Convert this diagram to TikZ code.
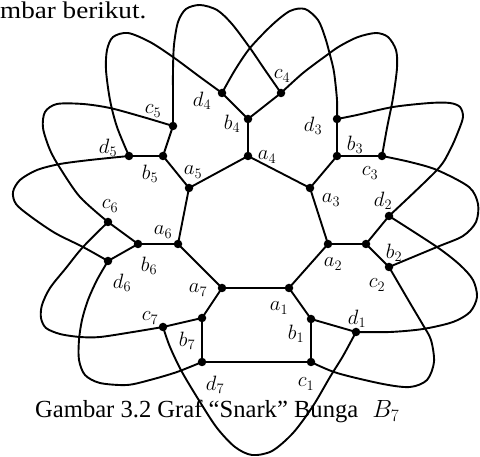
\documentclass[tikz,border=0pt]{standalone}
\usepackage{fontspec}
\setmainfont{Liberation Serif}
\begin{document}
\begin{tikzpicture}[x=1pt,y=-1pt,
  dot/.style={circle,fill=black,inner sep=0pt,minimum size=8.5pt},
  edge/.style={line width=1.9pt,line join=round,line cap=round},
  lab/.style={inner sep=0pt,font=\fontsize{21}{21}\selectfont}]
\useasboundingbox (0,0) rectangle (480,457);
% vertices
\node[dot] (a1) at (289,288) {};
\node[dot] (a2) at (328,244) {};
\node[dot] (a3) at (310,188) {};
\node[dot] (a4) at (248,156) {};
\node[dot] (a5) at (189,188) {};
\node[dot] (a6) at (178,244) {};
\node[dot] (a7) at (222,288) {};
\node[dot] (b1) at (311,319) {};
\node[dot] (c1) at (311,362) {};
\node[dot] (d1) at (356,332) {};
\node[dot] (b2) at (366,244) {};
\node[dot] (c2) at (389,267) {};
\node[dot] (d2) at (389,216) {};
\node[dot] (b3) at (337,156) {};
\node[dot] (c3) at (382,156) {};
\node[dot] (d3) at (337,119) {};
\node[dot] (b4) at (248,119) {};
\node[dot] (c4) at (281,93) {};
\node[dot] (d4) at (222,93) {};
\node[dot] (b5) at (163,156) {};
\node[dot] (c5) at (173,126) {};
\node[dot] (d5) at (129,156) {};
\node[dot] (b6) at (138,244) {};
\node[dot] (c6) at (108,222) {};
\node[dot] (d6) at (108,261) {};
\node[dot] (b7) at (202,318) {};
\node[dot] (c7) at (163,327) {};
\node[dot] (d7) at (202,362) {};
% inner heptagon and spokes
\draw[edge] (a1.center) -- (a2.center) -- (a3.center) -- (a4.center) -- (a5.center) -- (a6.center) -- (a7.center) -- cycle;
\foreach \i in {1,...,7}{
  \draw[edge] (a\i.center) -- (b\i.center);
  \draw[edge] (c\i.center) -- (b\i.center) -- (d\i.center);
}
\draw[edge] (d7.center) -- (c1.center);
% outer loops
\draw[edge] plot[smooth] coordinates {(c7.center) (170,347) (182,372) (200,402) (217,428) (235,447) (252,455) (272,451) (293,433) (313,406) (330,377) (343,356) (d1.center)};
\draw[edge] plot[smooth] coordinates {(c1.center) (337,373) (383,384) (410,387) (427,380) (434,362) (431,340) (423,325) (410,303) (c2.center)};
\draw[edge] plot[smooth] coordinates {(d1.center) (390,332) (423,329) (453,322) (470,312) (477,297) (473,280) (460,265) (437,247) (d2.center)};
\draw[edge] plot[smooth] coordinates {(c2.center) (437,247) (463,236) (476,222) (478,204) (469,187) (437,170) (410,162) (c3.center)};
\draw[edge] plot[smooth] coordinates {(d2.center) (437,170) (450,150) (458,132) (463,117) (460,107) (450,103) (430,103) (393,107) (357,115) (d3.center)};
\draw[edge] plot[smooth] coordinates {(c3.center) (387,128) (393,98) (397,68) (396,50) (388,37) (376,33) (358,37) (340,46) (327,55) (303,73) (c4.center)};
\draw[edge] plot[smooth] coordinates {(d3.center) (337,100) (334,72) (330,55) (325,37) (318,20) (305,9) (290,11) (272,25) (250,48) (235,70) (d4.center)};
\draw[edge] plot[smooth] coordinates {(c4.center) (265,70) (250,48) (232,24) (217,10) (200,5) (186,9) (178,22) (174,45) (173,70) (173,100) (c5.center)};
\draw[edge] plot[smooth] coordinates {(d4.center) (200,77) (173,57) (150,42) (128,33) (113,37) (107,50) (106,70) (110,100) (117,127) (d5.center)};
\draw[edge] plot[smooth] coordinates {(c5.center) (143,117) (110,108) (83,104) (57,104) (45,112) (43,128) (50,150) (60,168) (80,197) (c6.center)};
\draw[edge] plot[smooth] coordinates {(d5.center) (90,160) (60,164) (37,170) (20,180) (13,192) (16,204) (30,216) (55,233) (83,247) (d6.center)};
\draw[edge] plot[smooth] coordinates {(c6.center) (83,247) (66,268) (50,288) (42,305) (41,318) (46,328) (60,334) (80,337) (100,337) (133,332) (c7.center)};
\draw[edge] plot[smooth] coordinates {(d6.center) (97,280) (88,300) (82,320) (79,340) (79,360) (85,375) (100,383) (127,385) (150,380) (177,372) (d7.center)};
% labels
\node[lab] (la1) at (279,308) {$a_1$};
\node[lab] (lb1) at (296,334) {$b_1$};
\node[lab] (lc1) at (306,384) {$c_1$};
\node[lab] (ld1) at (357,319) {$d_1$};
\node[lab] (la2) at (333,264) {$a_2$};
\node[lab] (lb2) at (394,253) {$b_2$};
\node[lab] (lc2) at (377,285) {$c_2$};
\node[lab] (ld2) at (383,201) {$d_2$};
\node[lab] (la3) at (331,200) {$a_3$};
\node[lab] (lb3) at (355,145) {$b_3$};
\node[lab] (lc3) at (370,173) {$c_3$};
\node[lab] (ld3) at (313,126) {$d_3$};
\node[lab] (la4) at (267,157) {$a_4$};
\node[lab] (lb4) at (232,124) {$b_4$};
\node[lab] (lc4) at (282,76) {$c_4$};
\node[lab] (ld4) at (202,101) {$d_4$};
\node[lab] (la5) at (193,172) {$a_5$};
\node[lab] (lb5) at (150,174) {$b_5$};
\node[lab] (lc5) at (153,111) {$c_5$};
\node[lab] (ld5) at (108,148) {$d_5$};
\node[lab] (la6) at (163,232) {$a_6$};
\node[lab] (lb6) at (149,266) {$b_6$};
\node[lab] (lc6) at (110,206) {$c_6$};
\node[lab] (ld6) at (122,283) {$d_6$};
\node[lab] (la7) at (198,290) {$a_7$};
\node[lab] (lb7) at (187,341) {$b_7$};
\node[lab] (lc7) at (150,318) {$c_7$};
\node[lab] (ld7) at (215,385) {$d_7$};
% texts
\node[anchor=base west,inner sep=0pt,font=\fontsize{24}{24}\selectfont] (top) at (0,19) {\scalebox{1.13}[1]{mbar berikut.}};
\node[anchor=base west,inner sep=0pt,font=\fontsize{24.6}{25}\selectfont] (cap) at (35,418) {Gambar 3.2 Graf “Snark” Bunga\hspace{14pt}$B_7$};
\end{tikzpicture}
\end{document}
